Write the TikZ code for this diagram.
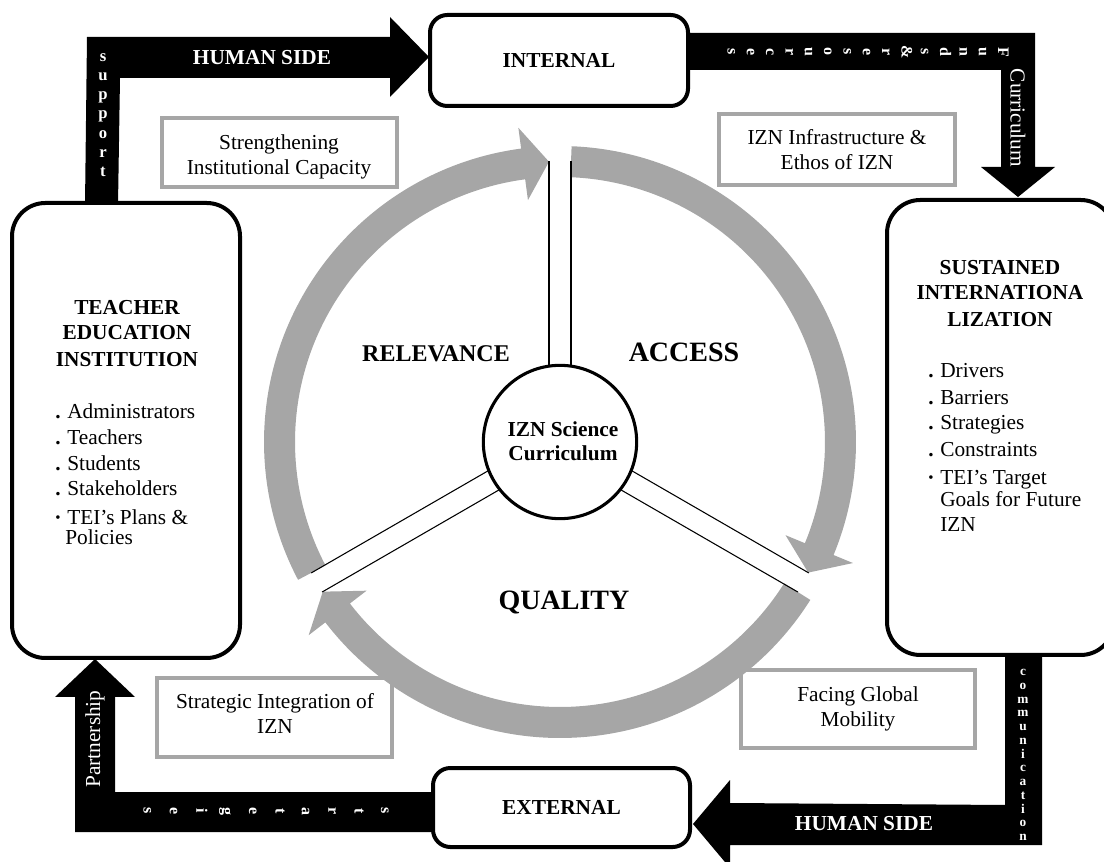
\documentclass[tikz,border=0pt]{standalone}
\usepackage{fontspec}
\setmainfont{Liberation Serif}
\usetikzlibrary{calc,backgrounds}
\definecolor{ringgray}{HTML}{A6A6A6}
\newcommand{\lowdot}{\makebox[9pt][l]{\textbf{.}}}
\newcommand{\middot}{\makebox[9pt][l]{\raisebox{0.25ex}{\scalebox{0.7}{\textbullet}}}}

\begin{document}
\begin{tikzpicture}[x=0.75pt,y=-0.75pt,
  roundbox/.style={draw=black, line width=3pt, fill=white, rounded corners=13pt, inner sep=0pt,
                   font=\fontsize{16}{19}\selectfont\bfseries},
  tallbox/.style={draw=black, line width=3pt, fill=white, rounded corners=25pt, inner sep=0pt},
  labelbox/.style={draw=ringgray, line width=3pt, fill=white, inner sep=0pt},
  plain/.style={font=\fontsize{16}{19}\selectfont, inner sep=0pt, anchor=base},
  plainleft/.style={plain, anchor=base west},
  heavy/.style={font=\fontsize{16}{19}\selectfont\bfseries, inner sep=0pt, anchor=base},
  bigword/.style={font=\fontsize{#1}{#1}\selectfont\bfseries, inner sep=0pt, anchor=base},
  barfill/.style={fill=black},
  onbar/.style={text=white, inner sep=0pt},
  letters/.style 2 args={onbar, align=center, font=\fontsize{#1}{#2}\selectfont\bfseries},
  spoke/.style={draw=black, line width=0.8pt},
]
\useasboundingbox (0,0) rectangle (1104,862);

% ---------- main boxes ----------
\node[roundbox, minimum width=193.5pt, minimum height=68.25pt] (int) at (559,60.5) {INTERNAL};
\node[roundbox, minimum width=192.75pt, minimum height=59.25pt] (ext) at (561.5,807.5) {EXTERNAL};
\node[tallbox, minimum width=171pt, minimum height=341.25pt] (tei) at (126,430.5) {};
\node[tallbox, minimum width=170.25pt, minimum height=341.25pt] (sus) at (1000.5,427.5) {};

% ---------- black block arrows between the boxes ----------
\begin{scope}[on background layer]
  % TEI -> INTERNAL
  \fill[barfill] ($(tei.north west)+(75,4)$) -- (87,37) -- (390,37) -- (390,17)
    -- ($(int.west)+(1,-3.5)$) -- (390,97) -- (390,78) -- (120,78)
    -- ($(tei.north west)+(108,4)$) -- cycle;
  % INTERNAL -> SUSTAINED
  \fill[barfill] ($(int.east)+(-3,-27.5)$) -- (1035,33) -- (1035,167) -- (1055,167)
    -- ($(sus.north)+(17.5,-1)$) -- (981,167) -- (1001,167) -- (1001,70)
    -- ($(int.east)+(-3,9.5)$) -- cycle;
  % SUSTAINED -> EXTERNAL
  \fill[barfill] ($(sus.south)+(4.5,-3)$) -- (1042,652) -- (1042,845) -- (730,845) -- (730,868)
    -- ($(ext.east)+(1,16.5)$) -- (730,780) -- (730,803)
    -- ($(sus.south)+(4.5,148)$) -- cycle;
  % EXTERNAL -> TEI
  \fill[barfill] ($(ext.west)+(3,-15.5)$) -- ($(ext.west)+(3,24.5)$) -- (75,832) -- (75,697)
    -- (55,697) -- ($(tei.south)+(-31,-1)$) -- (135,697) -- (115,697) -- (115,792) -- cycle;
\end{scope}

% ---------- words on the arrows ----------
\node[onbar, font=\fontsize{16}{19}\selectfont\bfseries] (hs1) at (262,58) {HUMAN SIDE};
\node[onbar, font=\fontsize{16}{19}\selectfont\bfseries] (hs2) at (864,824) {HUMAN SIDE};
\node[letters={12.5}{14.4}] (sup) at (103,115) {s\\u\\p\\p\\o\\r\\t};
\node[letters={12}{14.5}, rotate=-90] (fund) at (868,52) {F\\u\\n\\d\\s\\\&\\r\\e\\s\\o\\u\\r\\c\\e\\s};
\node[onbar, font=\fontsize{16}{19}\selectfont, rotate=-90] (curr) at (1018,118) {Curriculum};
\node[onbar, font=\fontsize{16}{19}\selectfont, rotate=90] (part) at (95,739) {Partnership};
\node[letters={10}{10.3}] (comm) at (1023,755) {c\\o\\m\\m\\u\\n\\i\\c\\a\\t\\i\\o\\n};
\node[letters={12}{19.8}, rotate=-90] (strat) at (266,811) {s\\t\\r\\a\\t\\e\\g\\i\\e\\s};

% ---------- text in the two tall boxes ----------
\node[heavy] (teiA) at (127,315) {TEACHER};
\node[heavy] (teiB) at (127,340) {EDUCATION};
\node[heavy] (teiC) at (127,367) {INSTITUTION};
\node[plainleft] (tei1) at (55,419) {\lowdot Administrators};
\node[plainleft] (tei2) at (55,445) {\lowdot Teachers};
\node[plainleft] (tei3) at (55,471) {\lowdot Students};
\node[plainleft] (tei4) at (55,496) {\lowdot Stakeholders};
\node[plainleft] (tei5) at (55,525) {\middot TEI’s Plans \&};
\node[plainleft] (tei6) at (65,545) {Policies};

\node[heavy] (susA) at (1000,275) {SUSTAINED};
\node[heavy] (susB) at (1000,300) {INTERNATIONA};
\node[heavy] (susC) at (1000,327) {LIZATION};
\node[plainleft] (sus1) at (928,378) {\lowdot Drivers};
\node[plainleft] (sus2) at (928,405) {\lowdot Barriers};
\node[plainleft] (sus3) at (928,430) {\lowdot Strategies};
\node[plainleft] (sus4) at (928,457) {\lowdot Constraints};
\node[plainleft] (sus5) at (928,485) {\middot TEI’s Target};
\node[plainleft] (sus6) at (940,507) {Goals for Future};
\node[plainleft] (sus7) at (940,532) {IZN};

% ---------- grey label boxes ----------
\node[labelbox, minimum width=176.25pt, minimum height=51.75pt] (lab1) at (279.5,152.5) {};
\node[labelbox, minimum width=177pt, minimum height=53.25pt] (lab2) at (837,149.5) {};
\node[labelbox, minimum width=176.25pt, minimum height=59.25pt] (lab3) at (274.5,717.5) {};
\node[labelbox, minimum width=175.5pt, minimum height=58.5pt] (lab4) at (858,709) {};
\node[plain] (lab1a) at (279,150) {Strengthening};
\node[plain] (lab1b) at (279,175) {Institutional Capacity};
\node[plain] (lab2a) at (837,145) {IZN Infrastructure \&};
\node[plain] (lab2b) at (837,170) {Ethos of IZN};
\node[plain] (lab3a) at (275,709) {Strategic Integration of};
\node[plain] (lab3b) at (275,734) {IZN};
\node[plain] (lab4a) at (858,701) {Facing Global};
\node[plain] (lab4b) at (858,726) {Mobility};

% ---------- grey cycle of three curved arrows ----------
\coordinate (C) at (560,442);
\foreach \a/\b/\t in {-87.75/22.45/27.75, 32.25/142.45/147.75, 152.25/262.45/267.75}{
  \fill[ringgray] ($(C)+(\a:296)$) arc[start angle=\a, end angle=\b, radius=296]
    -- ($(C)+(\b:317)$) -- ($(C)+(\t:280.5)$) -- ($(C)+(\b:244)$) -- ($(C)+(\b:265)$)
    arc[start angle=\b, end angle=\a, radius=265] -- cycle;
}
% double-line spokes
\foreach \th in {-90,30,150}{
  \foreach \s in {-11,11}{
    \draw[spoke] ($(C)+(\th:74)+({\th+90}:\s)$) -- ($(C)+(\th:281)+({\th+90}:\s)$);
  }
}
\node[circle, draw=black, line width=2.3pt, fill=white, minimum size=115pt, inner sep=0pt] (core) at (C) {};
\node[heavy] (coreA) at (563,437) {IZN Science};
\node[heavy] (coreB) at (563,461) {Curriculum};

\node[bigword=18] (rel) at (436,362) {RELEVANCE};
\node[bigword=21] (acc) at (684,362) {ACCESS};
\node[bigword=21] (qual) at (564,610) {QUALITY};
\end{tikzpicture}
\end{document}
